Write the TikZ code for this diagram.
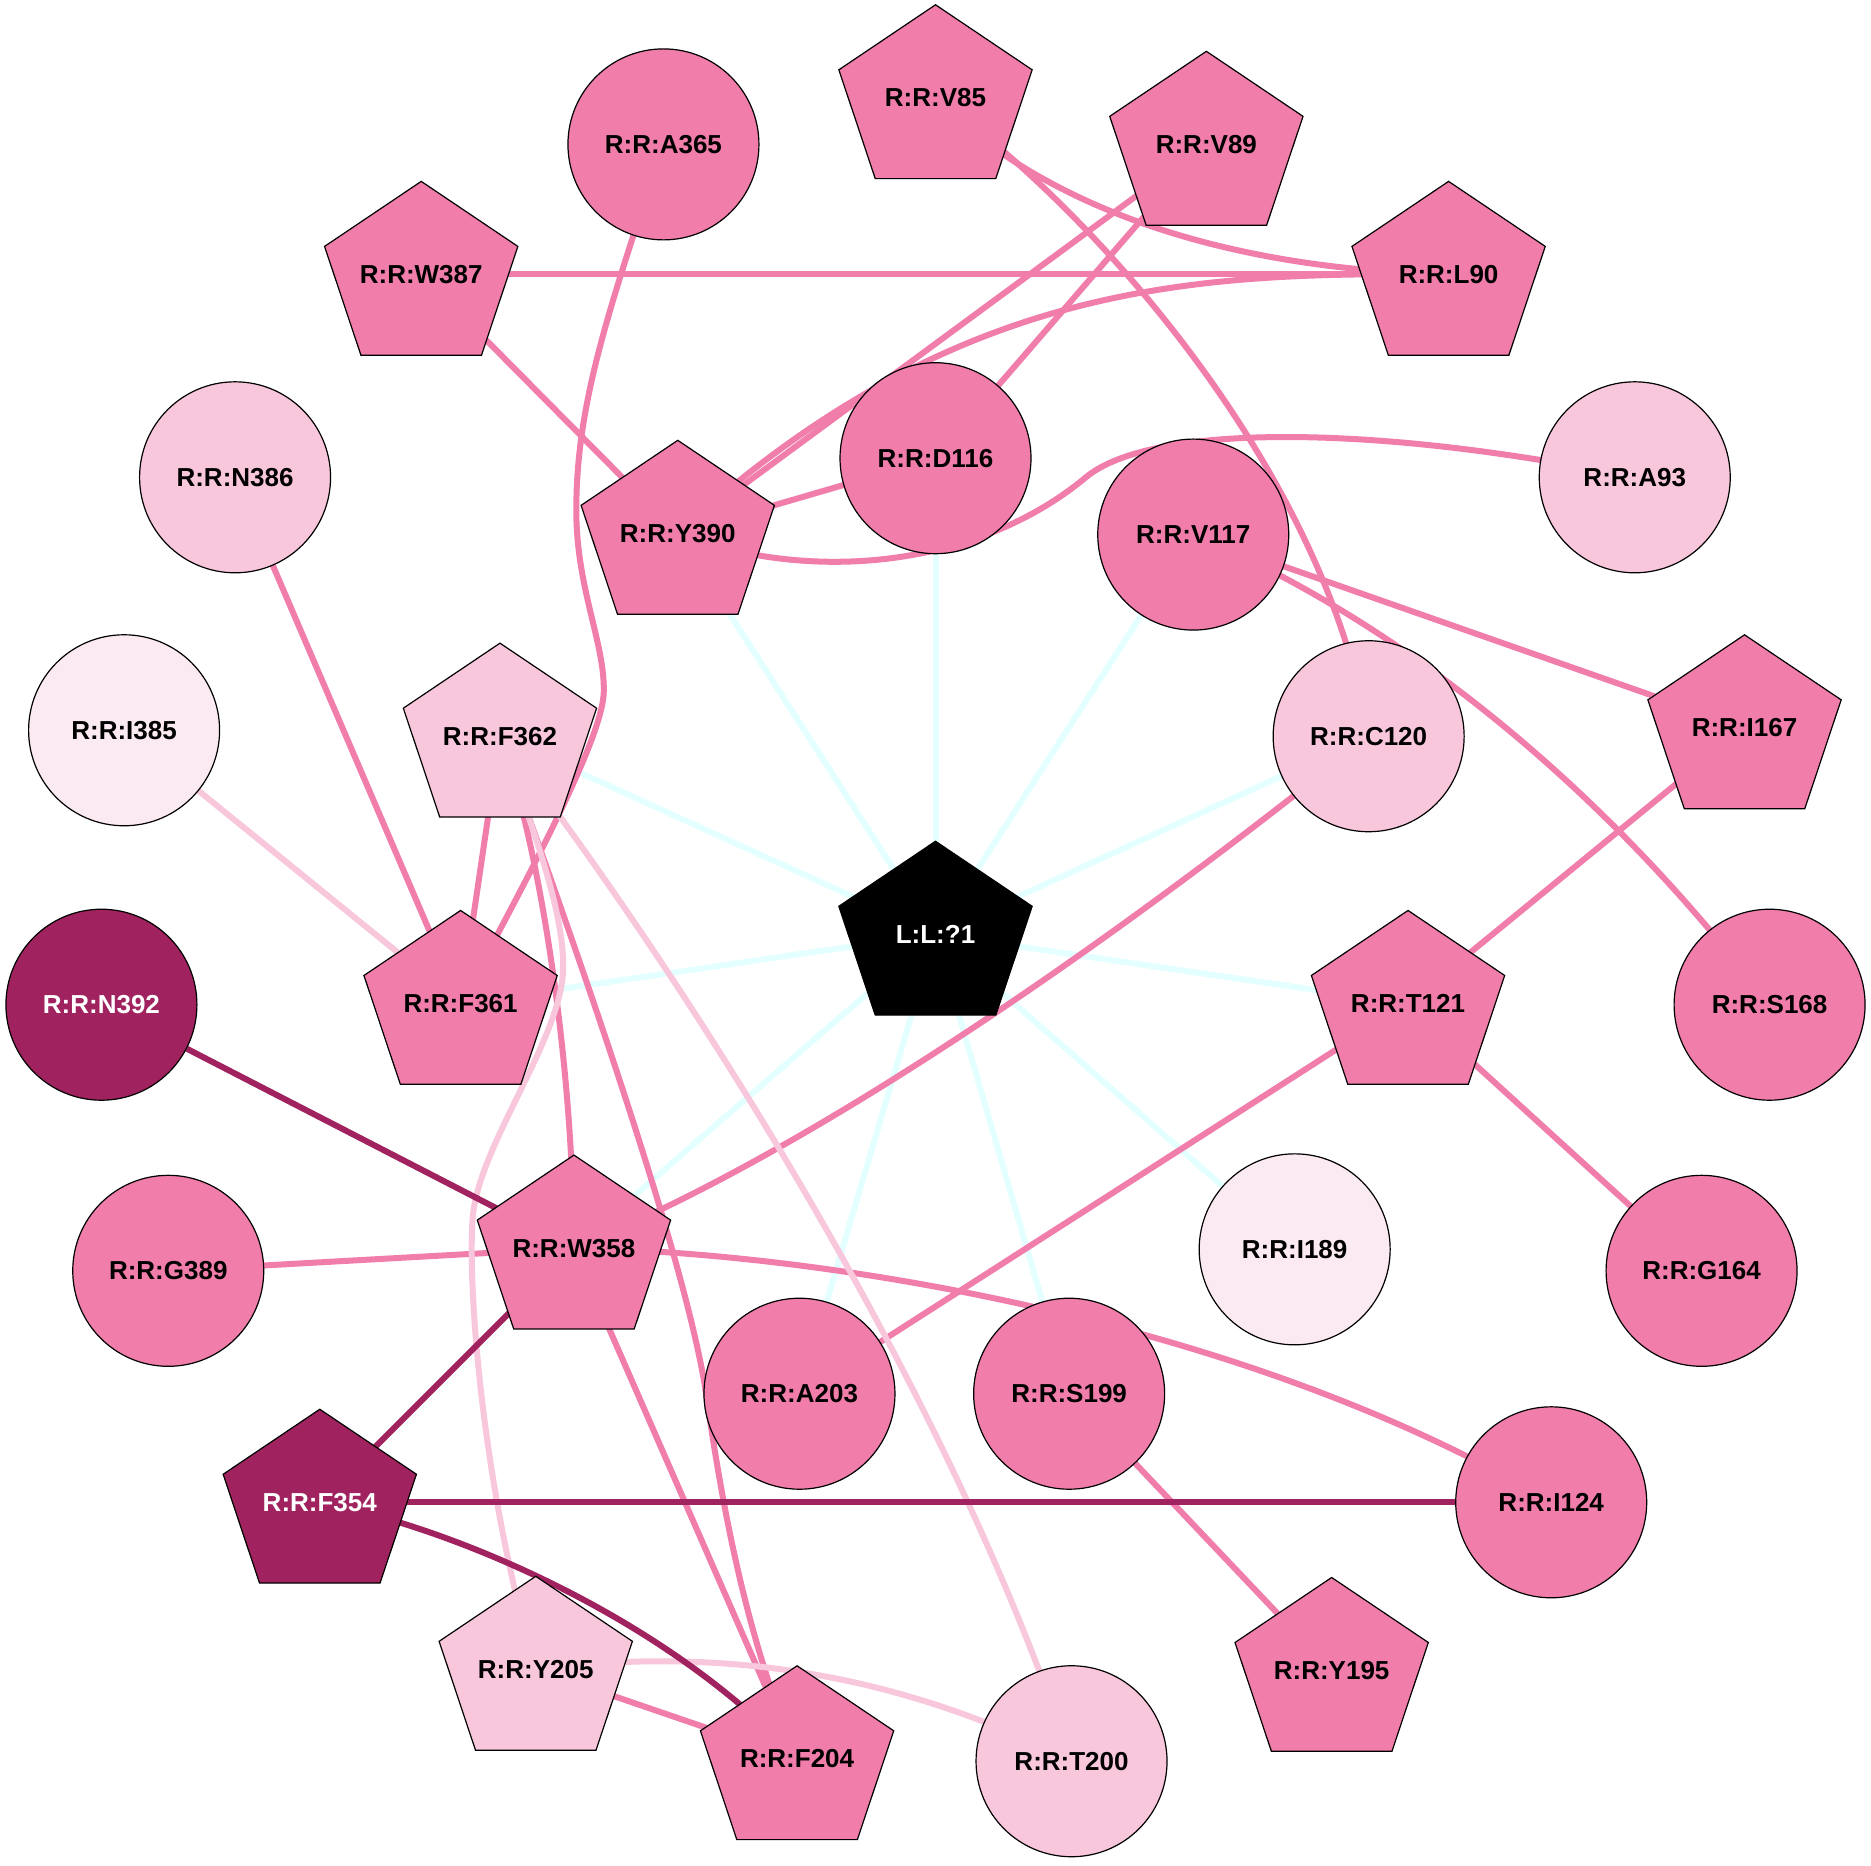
\documentclass[tikz,border=0pt]{standalone}
\usepackage{fontspec}
\setmainfont{Liberation Sans}
\usetikzlibrary{backgrounds}
\definecolor{pk}{RGB}{240,125,170}
\definecolor{lpk}{RGB}{248,199,220}
\definecolor{vlpk}{RGB}{251,234,242}
\definecolor{dk}{RGB}{160,35,95}
\definecolor{cy}{RGB}{228,255,255}
\tikzset{
  lbl/.style={font=\fontsize{26}{30}\selectfont\bfseries, inner sep=0pt, text=black},
  circnode/.style={circle, draw=black, line width=1.2pt, minimum size=191pt, inner sep=0pt,
    font=\fontsize{26}{30}\selectfont\bfseries, text=black},
  pentshape/.style={draw=black, line width=1.2pt, line join=miter},
  ecy/.style={draw=cy, line width=6pt},
  epk/.style={draw=pk, line width=6pt},
  elp/.style={draw=lpk, line width=6pt},
  edk/.style={draw=dk, line width=6pt},
}
\newcommand{\pentnode}[5]{%
  \filldraw[pentshape, fill=#3, shift={(#2)}] (0,-78) -- (81,-23.5) -- (50.5,67.7) -- (-50.5,67.7) -- (-81,-23.5) -- cycle;
  \node[lbl, text=#5] (#1) at (#2) {#4};}
\begin{document}
\begin{tikzpicture}[x=1.1933pt, y=-1.1933pt]
\useasboundingbox (0,0) rectangle (1568,1563);
% nodes
\pentnode{L1}{784,783}{black}{L:L:?1}{white}
\node[circnode, fill=pk] (A365) at (556,121) {R:R:A365};
\pentnode{V85}{784,82}{pk}{R:R:V85}{black}
\pentnode{V89}{1011,121}{pk}{R:R:V89}{black}
\pentnode{W387}{353,230}{pk}{R:R:W387}{black}
\pentnode{L90}{1214,230}{pk}{R:R:L90}{black}
\node[circnode, fill=lpk] (N386) at (197,400) {R:R:N386};
\node[circnode, fill=pk] (D116) at (784,384) {R:R:D116};
\pentnode{Y390}{568,447}{pk}{R:R:Y390}{black}
\node[circnode, fill=pk] (V117) at (1000,448) {R:R:V117};
\node[circnode, fill=lpk] (A93) at (1370,400) {R:R:A93};
\node[circnode, fill=vlpk] (I385) at (104,612) {R:R:I385};
\pentnode{F362}{419,617}{lpk}{R:R:F362}{black}
\node[circnode, fill=lpk] (C120) at (1147,617) {R:R:C120};
\pentnode{I167}{1462,610}{pk}{R:R:I167}{black}
\node[circnode, fill=dk, text=white] (N392) at (85,842) {R:R:N392};
\pentnode{F361}{386,841}{pk}{R:R:F361}{black}
\pentnode{T121}{1180,841}{pk}{R:R:T121}{black}
\node[circnode, fill=pk] (S168) at (1483,842) {R:R:S168};
\node[circnode, fill=pk] (G389) at (141,1065) {R:R:G389};
\pentnode{W358}{481,1046}{pk}{R:R:W358}{black}
\node[circnode, fill=vlpk] (I189) at (1085,1047) {R:R:I189};
\node[circnode, fill=pk] (G164) at (1426,1065) {R:R:G164};
\node[circnode, fill=pk] (A203) at (670,1168) {R:R:A203};
\node[circnode, fill=pk] (S199) at (896,1168) {R:R:S199};
\pentnode{F354}{268,1259}{dk}{R:R:F354}{white}
\node[circnode, fill=pk] (I124) at (1300,1259) {R:R:I124};
\pentnode{Y205}{449,1399}{lpk}{R:R:Y205}{black}
\pentnode{Y195}{1116,1400}{pk}{R:R:Y195}{black}
\pentnode{F204}{668,1474}{pk}{R:R:F204}{black}
\node[circnode, fill=lpk] (T200) at (898,1476) {R:R:T200};
% edges
\begin{scope}[on background layer]
\fill[white] (0,0) rectangle (1568,1563);
\foreach \t in {D116,Y390,V117,F362,C120,F361,T121,W358,A203,S199,I189}
  \draw[ecy] (L1.center) -- (\t.center);
\draw[epk] (V85.center) .. controls (860,160) and (1000,225) .. (L90.center);
\draw[epk] (V85.center) .. controls (910,170) and (1110,390) .. (C120.center);
\draw[epk] (V89.center) -- (Y390.center);
\draw[epk] (V89.center) -- (D116.center);
\draw[epk] (W387.center) -- (L90.center);
\draw[epk] (L90.center) .. controls (1000,228) and (800,235) .. (Y390.center);
\draw[epk] (W387.center) -- (Y390.center);
\draw[epk] (A365.center) .. controls (510,260) and (482,340) .. (483,432)
   .. controls (484,495) and (507,540) .. (506,580)
   .. controls (505,620) and (440,740) .. (F361.center);
\draw[epk] (Y390.center) -- (D116.center);
\draw[epk] (Y390.center) .. controls (680,490) and (820,475) .. (910,400)
   .. controls (964,355) and (1150,355) .. (A93.center);
\draw[epk] (N386.center) -- (F361.center);
\draw[epk] (V117.center) -- (I167.center);
\draw[epk] (V117.center) .. controls (1150,510) and (1330,640) .. (S168.center);
\draw[epk] (I167.center) -- (T121.center);
\draw[epk] (C120.center) .. controls (1020,720) and (720,950) .. (W358.center);
\draw[epk] (F362.center) -- (F361.center);
\draw[epk] (F362.center) .. controls (450,700) and (480,880) .. (W358.center);
\draw[epk] (F362.center) .. controls (470,760) and (575,1050) .. (592,1170)
   .. controls (606,1266) and (625,1370) .. (F204.center);
\draw[epk] (W358.center) .. controls (700,1050) and (1050,1110) .. (I124.center);
\draw[epk] (G389.center) -- (W358.center);
\draw[epk] (W358.center) -- (F204.center);
\draw[epk] (T121.center) -- (A203.center);
\draw[epk] (T121.center) -- (G164.center);
\draw[epk] (S199.center) -- (Y195.center);
\draw[epk] (Y205.center) -- (F204.center);
\draw[elp] (F362.center) .. controls (560,800) and (790,1150) .. (T200.center);
\draw[elp] (F362.center) .. controls (445,690) and (472,760) .. (472,810)
   .. controls (472,870) and (400,960) .. (396,1022)
   .. controls (392,1084) and (405,1250) .. (Y205.center);
\draw[elp] (I385.center) -- (F361.center);
\draw[elp] (Y205.center) .. controls (560,1385) and (720,1385) .. (T200.center);
\draw[edk] (N392.center) -- (W358.center);
\draw[edk] (W358.center) -- (F354.center);
\draw[edk] (F354.center) -- (I124.center);
\draw[edk] (F354.center) .. controls (380,1280) and (560,1357) .. (F204.center);
\end{scope}
\end{tikzpicture}
\end{document}
